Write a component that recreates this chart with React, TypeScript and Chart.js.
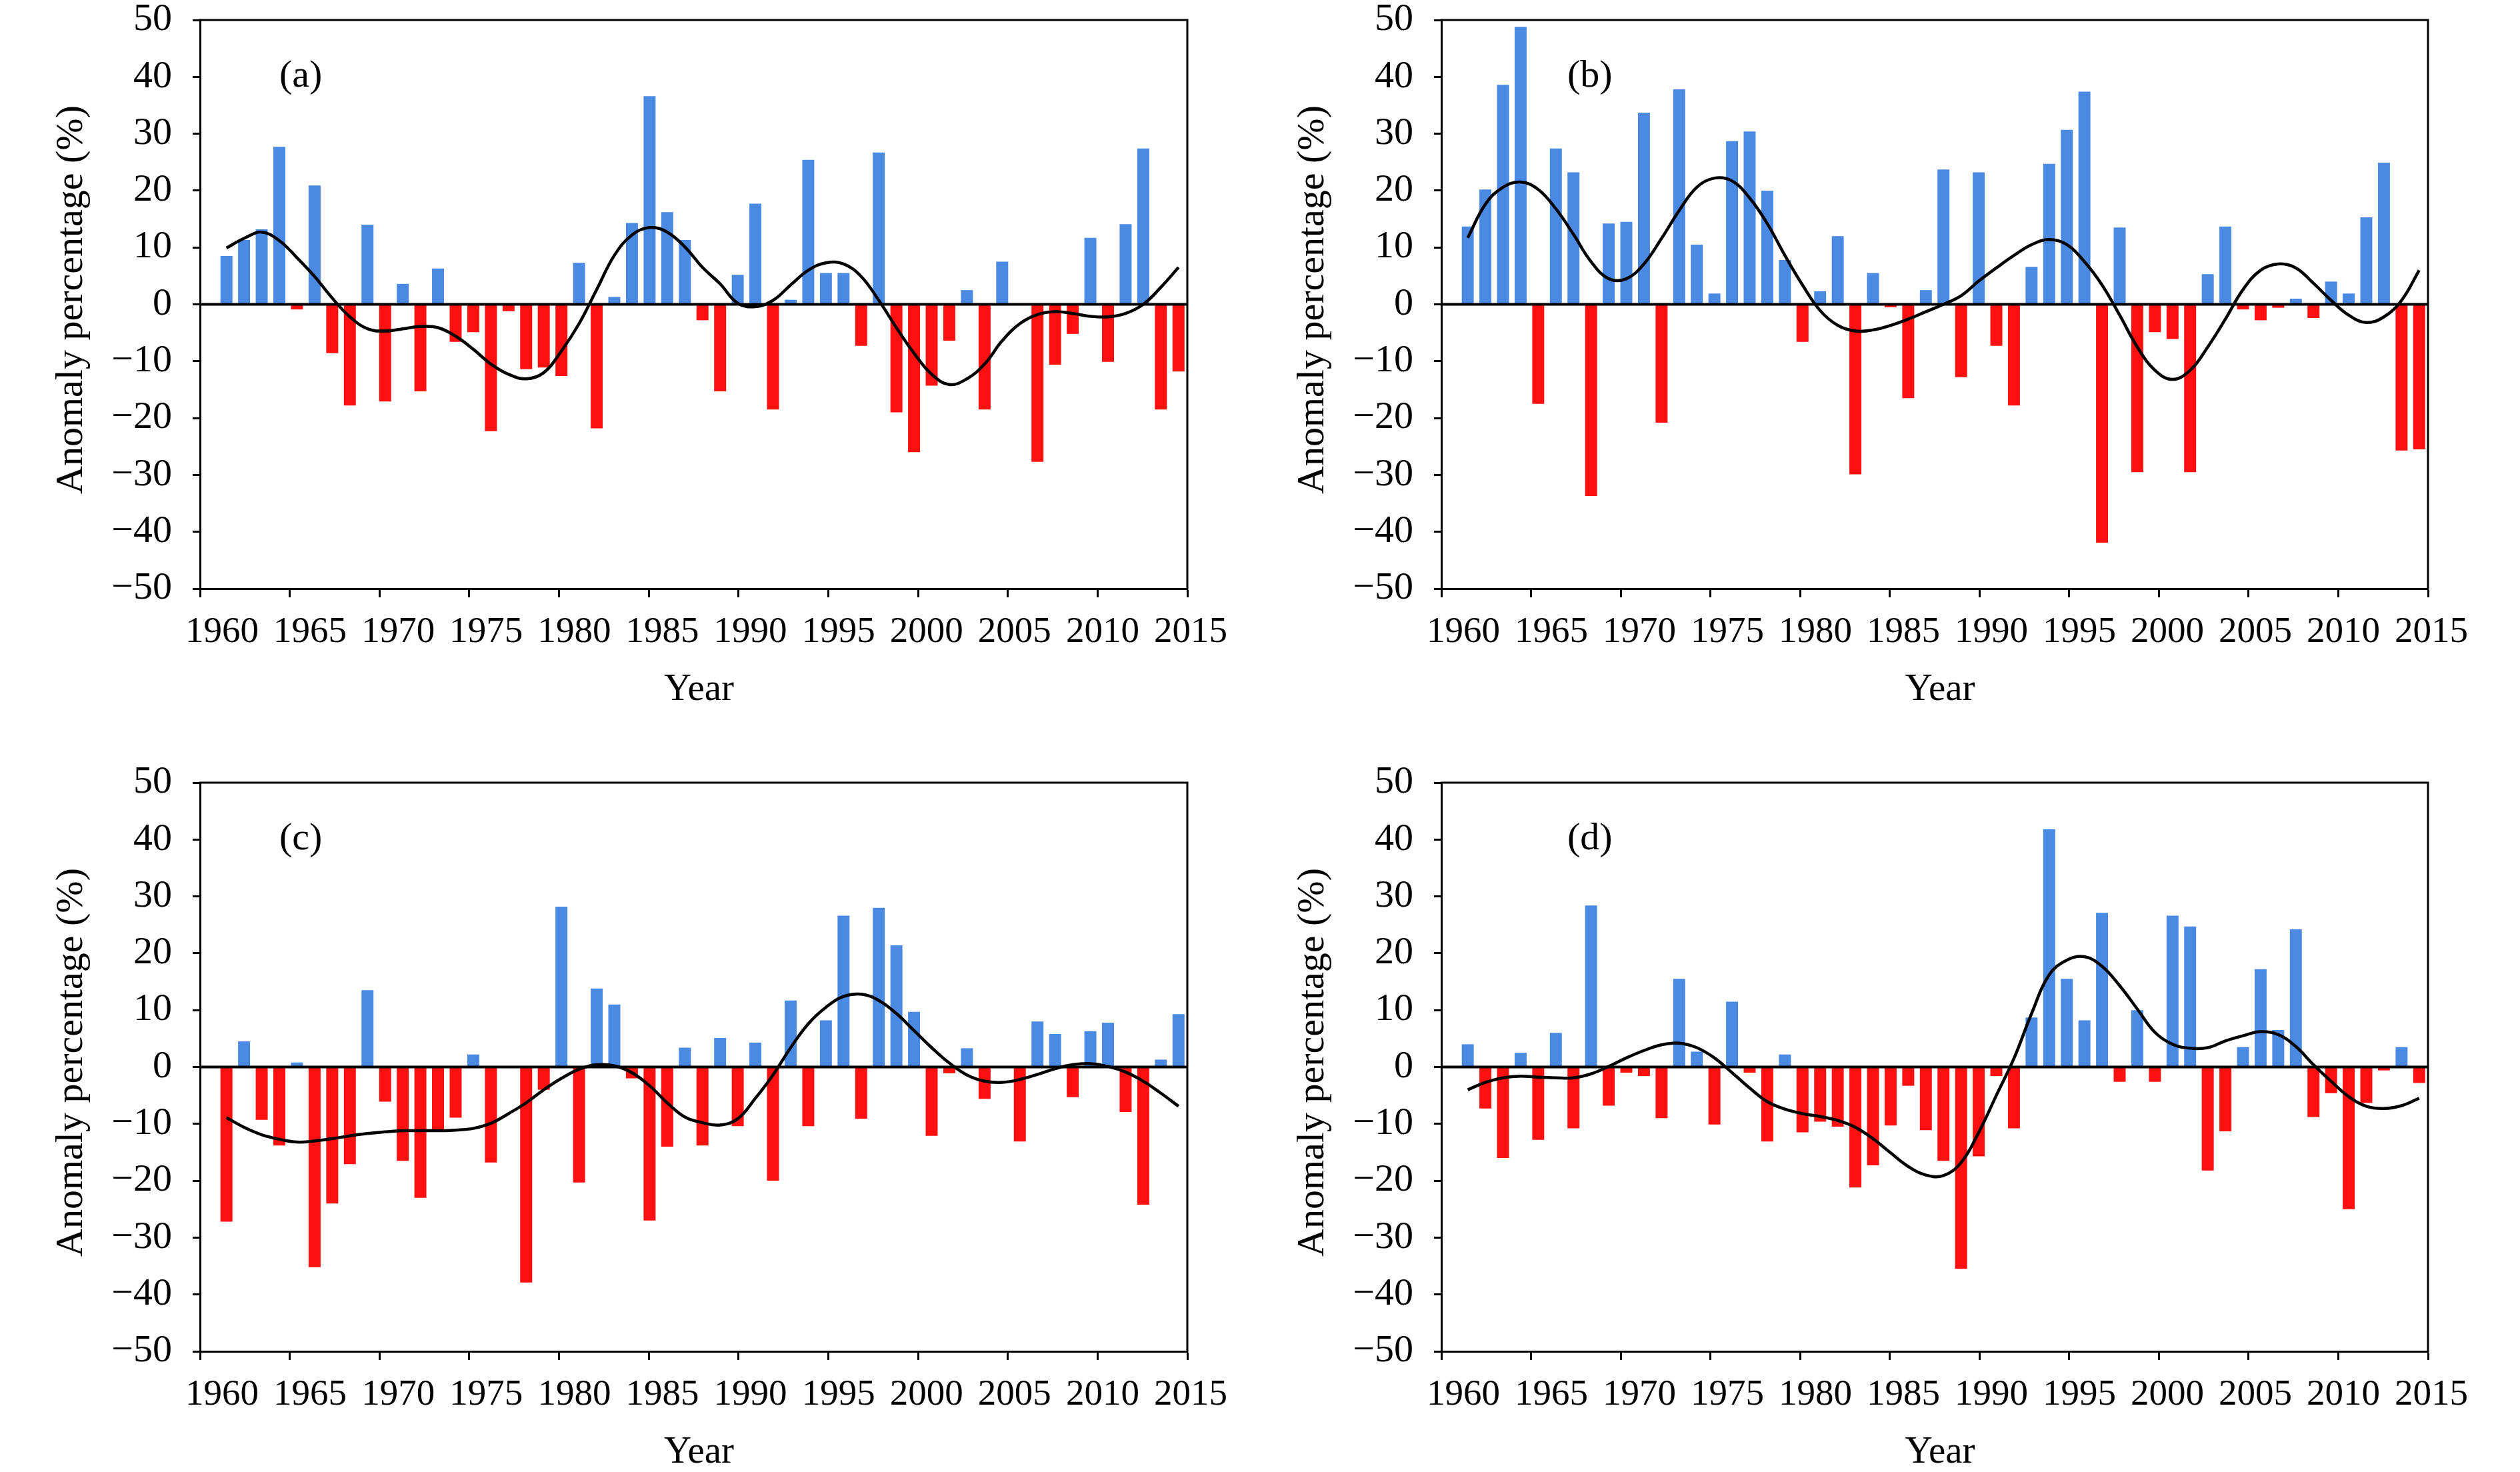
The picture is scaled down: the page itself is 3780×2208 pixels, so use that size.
import React, { useEffect, useRef } from 'react';
import { Chart, registerables } from 'chart.js';

Chart.register(...registerables);

const years = [
  1961, 1962, 1963, 1964, 1965, 1966, 1967, 1968, 1969, 1970,
  1971, 1972, 1973, 1974, 1975, 1976, 1977, 1978, 1979, 1980,
  1981, 1982, 1983, 1984, 1985, 1986, 1987, 1988, 1989, 1990,
  1991, 1992, 1993, 1994, 1995, 1996, 1997, 1998, 1999, 2000,
  2001, 2002, 2003, 2004, 2005, 2006, 2007, 2008, 2009, 2010,
  2011, 2012, 2013, 2014, 2015,
];

const xTickYears = [1960, 1965, 1970, 1975, 1980, 1985, 1990, 1995, 2000, 2005, 2010, 2015];

const barsA = [
  8.5, 11.3, 13.2, 27.7, -0.9, 20.9, -8.6, -17.8, 14.0, -17.1,
  3.6, -15.3, 6.3, -6.6, -4.9, -22.3, -1.2, -11.4, -11.1, -12.6,
  7.3, -21.8, 1.3, 14.3, 36.6, 16.2, 11.3, -2.8, -15.3, 5.2,
  17.7, -18.5, 0.8, 25.4, 5.5, 5.5, -7.3, 26.7, -19.0, -26.0,
  -14.3, -6.4, 2.5, -18.5, 7.5, 0, -27.7, -10.6, -5.2, 11.7,
  -10.1, 14.1, 27.4, -18.5, -11.8,
];
const curveA = [
  9.9, 11.6, 12.7, 11.2, 8.2, 4.9, 1.1, -2.2, -4.3, -4.7,
  -4.3, -3.9, -4.1, -5.6, -7.9, -10.5, -12.3, -13.1, -12.0, -8.2,
  -3.4, 2.6, 8.6, 12.2, 13.5, 12.7, 10.1, 6.5, 3.6, 0.2,
  -0.4, 0.7, 3.4, 6.0, 7.3, 7.1, 4.9, 0.7, -4.1, -8.6,
  -12.3, -14.1, -13.1, -10.5, -6.4, -3.4, -1.8, -1.3, -1.6, -2.1,
  -2.2, -1.6, 0.0, 3.0, 6.5,
];

const barsB = [
  13.7, 20.2, 38.6, 48.8, -17.5, 27.4, 23.2, -33.7, 14.2, 14.5,
  33.7, -20.8, 37.8, 10.5, 1.9, 28.7, 30.4, 20.0, 7.8, -6.6,
  2.3, 12.0, -29.9, 5.5, -0.5, -16.5, 2.5, 23.7, -12.8, 23.2,
  -7.3, -17.8, 6.6, 24.7, 30.7, 37.4, -41.9, 13.5, -29.5, -4.9,
  -6.1, -29.5, 5.3, 13.7, -0.9, -2.8, -0.6, 1.0, -2.4, 4.0,
  1.9, 15.3, 24.9, -25.7, -25.5,
];
const curveB = [
  11.7, 17.6, 20.6, 21.5, 20.2, 16.8, 12.3, 7.5, 4.5, 4.5,
  7.1, 11.6, 16.5, 20.6, 22.2, 21.7, 18.7, 14.2, 8.6, 3.4,
  -1.1, -3.7, -4.7, -4.5, -3.7, -2.6, -1.3, 0.0, 1.5, 4.1,
  6.4, 8.6, 10.5, 11.4, 10.5, 7.5, 3.4, -1.9, -7.5, -11.6,
  -13.2, -11.6, -7.5, -2.6, 2.6, 6.0, 7.1, 6.4, 3.7, 0.7,
  -1.9, -3.2, -2.2, 0.7, 6.0,
];

const barsC = [
  -27.2, 4.5, -9.3, -13.8, 0.8, -35.2, -24.0, -17.1, 13.5, -6.1,
  -16.5, -23.0, -11.1, -8.9, 2.2, -16.8, 0, -37.9, -4.0, 28.2,
  -20.3, 13.8, 11.0, -2.0, -27.0, -14.0, 3.4, -13.8, 5.1, -10.4,
  4.3, -20.0, 11.7, -10.4, 8.2, 26.6, -9.1, 28.0, 21.4, 9.7,
  -12.1, -1.1, 3.3, -5.6, 0, -13.1, 8.0, 5.8, -5.3, 6.3,
  7.8, -7.9, -24.2, 1.3, 9.3,
];
const curveC = [
  -8.9, -10.6, -11.9, -12.7, -13.2, -13.0, -12.6, -12.1, -11.7, -11.4,
  -11.2, -11.2, -11.2, -11.1, -10.8, -9.9, -8.2, -6.3, -4.0, -2.0,
  -0.4, 0.4, 0.2, -1.0, -3.3, -6.3, -8.8, -9.8, -10.2, -9.1,
  -5.5, -1.4, 3.4, 7.6, 10.5, 12.4, 12.8, 11.7, 9.4, 6.4,
  3.4, 0.7, -1.4, -2.5, -2.7, -2.2, -1.3, -0.3, 0.4, 0.6,
  0.1, -0.9, -2.5, -4.6, -6.9,
];

const barsD = [
  4.0, -7.3, -16.0, 2.5, -12.8, 6.0, -10.8, 28.4, -6.8, -1.0,
  -1.6, -9.0, 15.5, 2.7, -10.1, 11.5, -1.0, -13.1, 2.2, -11.5,
  -9.6, -10.5, -21.2, -17.3, -10.3, -3.3, -11.1, -16.5, -35.5, -15.7,
  -1.6, -10.8, 8.7, 41.8, 15.5, 8.2, 27.1, -2.6, 10.0, -2.6,
  26.6, 24.7, -18.2, -11.3, 3.5, 17.2, 6.5, 24.2, -8.8, -4.6,
  -25.0, -6.3, -0.6, 3.5, -2.8,
];
const curveD = [
  -4.0, -2.7, -1.9, -1.6, -1.8, -1.9, -1.9, -1.2, 0.1, 1.6,
  2.9, 3.9, 4.2, 3.4, 1.6, -1.0, -3.7, -6.1, -7.4, -8.2,
  -8.7, -9.4, -10.6, -12.6, -15.1, -17.5, -19.0, -19.1, -16.8, -11.5,
  -5.0, 1.5, 9.4, 16.2, 18.8, 19.4, 17.7, 14.3, 10.2, 6.1,
  4.0, 3.3, 3.4, 4.6, 5.5, 6.2, 5.7, 3.6, 0.4, -2.5,
  -5.2, -6.9, -7.3, -6.8, -5.5,
];

const BLUE = '#4a8ae2';
const RED = '#ff1010';
const FONT = '"Liberation Serif", "Times New Roman", serif';
const Y_TITLE = 'Anomaly percentage (%)';
const X_TITLE = 'Year';

const framePlugin = {
  id: 'frame',
  beforeDatasetDraw(chart: any, args: any) {
    if (args.index !== 0) return;
    const { ctx, chartArea } = chart;
    const y0 = chart.scales.y.getPixelForValue(0);
    ctx.save();
    ctx.strokeStyle = '#000';
    ctx.lineWidth = 4;
    ctx.beginPath();
    ctx.moveTo(chartArea.left, y0);
    ctx.lineTo(chartArea.right, y0);
    ctx.stroke();
    ctx.restore();
  },
  afterDraw(chart: any, _args: any, opts: any) {
    const { ctx, chartArea } = chart;
    const { left, right, top, bottom } = chartArea;
    ctx.save();
    ctx.strokeStyle = '#000';
    ctx.lineWidth = 3;
    ctx.beginPath();
    ctx.moveTo(left - 1.5, top);
    ctx.lineTo(right, top);
    ctx.lineTo(right, bottom + 1.5);
    ctx.stroke();

    ctx.fillStyle = '#000';
    ctx.font = `58px ${FONT}`;
    ctx.textAlign = 'left';
    ctx.textBaseline = 'middle';
    ctx.fillText(opts.label, left + opts.labelDx, top + 85);

    ctx.textAlign = 'center';
    ctx.font = `57px ${FONT}`;
    ctx.fillText(X_TITLE, (left + right) / 2 + 8, bottom + 152);

    ctx.translate(left - 192, (top + bottom) / 2 - 7);
    ctx.rotate(-Math.PI / 2);
    ctx.font = `58px ${FONT}`;
    ctx.fillText(Y_TITLE, 0, 0);
    ctx.restore();
  },
};

type PanelProps = {
  label: string;
  labelDx: number;
  bars: number[];
  curve: number[];
  left: number;
  top: number;
  width: number;
  height: number;
  yAxisWidth: number;
  padTop: number;
  padRight: number;
  xAxisHeight: number;
};

function Panel(p: PanelProps) {
  const ref = useRef<HTMLCanvasElement>(null);
  useEffect(() => {
    const canvas = ref.current;
    if (!canvas) return;
    const tickFontX = { family: FONT, size: 55 };
    const tickFontY = { family: FONT, size: 58 };
    const chart = new Chart(canvas, {
      type: 'bar',
      data: {
        datasets: [
          {
            type: 'line',
            data: years.map((yr, i) => ({ x: yr, y: p.curve[i] })),
            xAxisID: 'xb',
            yAxisID: 'y',
            borderColor: '#000',
            borderWidth: 4.5,
            pointRadius: 0,
            tension: 0.4,
            fill: false,
          } as any,
          {
            type: 'bar',
            data: years.map((yr, i) => ({ x: yr, y: p.bars[i] })),
            xAxisID: 'xb',
            yAxisID: 'y',
            backgroundColor: p.bars.map((v) => (v >= 0 ? BLUE : RED)),
            borderWidth: 0,
            barPercentage: 0.68,
            categoryPercentage: 1,
          } as any,
        ],
      },
      options: {
        responsive: false,
        animation: false,
        devicePixelRatio: 1,
        layout: { padding: { top: p.padTop, right: p.padRight, left: 0, bottom: 0 } },
        plugins: {
          legend: { display: false },
          tooltip: { enabled: false },
          frame: { label: p.label, labelDx: p.labelDx },
        } as any,
        scales: {
          xb: {
            type: 'linear',
            display: false,
            min: 1959.5,
            max: 2015.5,
            offset: false,
            grid: { offset: false },
          },
          // tick marks: 1960 at left edge, 2015 at right edge
          x: {
            type: 'linear',
            position: 'bottom',
            weight: 0,
            min: 1960,
            max: 2015,
            offset: false,
            ticks: { display: false, stepSize: 5, autoSkip: false },
            afterBuildTicks: (s: any) => {
              s.ticks = xTickYears.map((v) => ({ value: v }));
            },
            grid: {
              offset: false,
              drawOnChartArea: false,
              drawTicks: true,
              tickLength: 13,
              tickWidth: 3,
              tickColor: '#000',
            },
            border: { display: true, color: '#000', width: 3 },
            afterFit: (s: any) => {
              s.height = 13;
              s.paddingLeft = 0;
              s.paddingRight = 0;
            },
          },
          // year labels (slightly compressed spacing, as in the source figure)
          xl: {
            type: 'linear',
            position: 'bottom',
            weight: 1,
            min: 1958.75,
            max: 2014.81,
            offset: false,
            grid: { display: false, drawOnChartArea: false, drawTicks: false },
            border: { display: false },
            afterBuildTicks: (s: any) => {
              s.ticks = xTickYears.map((v) => ({ value: v }));
            },
            ticks: {
              autoSkip: false,
              maxRotation: 0,
              color: '#000',
              font: tickFontX,
              padding: 20,
              callback: (v: any) => String(v),
            },
            afterFit: (s: any) => {
              s.height = p.xAxisHeight - 13;
              s.paddingLeft = 0;
              s.paddingRight = 0;
            },
          },
          y: {
            type: 'linear',
            min: -50,
            max: 50,
            ticks: {
              stepSize: 10,
              color: '#000',
              font: tickFontY,
              padding: 31,
              callback: (v: any) => (v < 0 ? '\u2212' + Math.abs(v) : String(v)),
            },
            grid: {
              drawOnChartArea: false,
              drawTicks: true,
              tickLength: 11,
              tickWidth: 3,
              tickColor: '#000',
            },
            border: { display: true, color: '#000', width: 3 },
            afterFit: (s: any) => {
              s.width = p.yAxisWidth;
              s.paddingTop = 0;
              s.paddingBottom = 0;
            },
          },
        } as any,
      },
      plugins: [framePlugin as any],
    });
    return () => chart.destroy();
  }, []);
  return (
    <canvas
      ref={ref}
      width={p.width}
      height={p.height}
      style={{ position: 'absolute', left: p.left, top: p.top, width: p.width, height: p.height }}
    />
  );
}

export default function App() {
  return (
    <div style={{ position: 'absolute', left: 0, top: 0, width: 3780, height: 2208, background: '#fff' }}>
      <Panel label="(a)" labelDx={119} bars={barsA} curve={curveA}
        left={0} top={0} width={1890} height={1104}
        yAxisWidth={300} padTop={30} padRight={109} xAxisHeight={221} />
      <Panel label="(b)" labelDx={189} bars={barsB} curve={curveB}
        left={1890} top={0} width={1890} height={1104}
        yAxisWidth={272} padTop={30} padRight={138} xAxisHeight={221} />
      <Panel label="(c)" labelDx={119} bars={barsC} curve={curveC}
        left={0} top={1104} width={1890} height={1104}
        yAxisWidth={300} padTop={70} padRight={109} xAxisHeight={181} />
      <Panel label="(d)" labelDx={189} bars={barsD} curve={curveD}
        left={1890} top={1104} width={1890} height={1104}
        yAxisWidth={272} padTop={70} padRight={138} xAxisHeight={181} />
    </div>
  );
}
